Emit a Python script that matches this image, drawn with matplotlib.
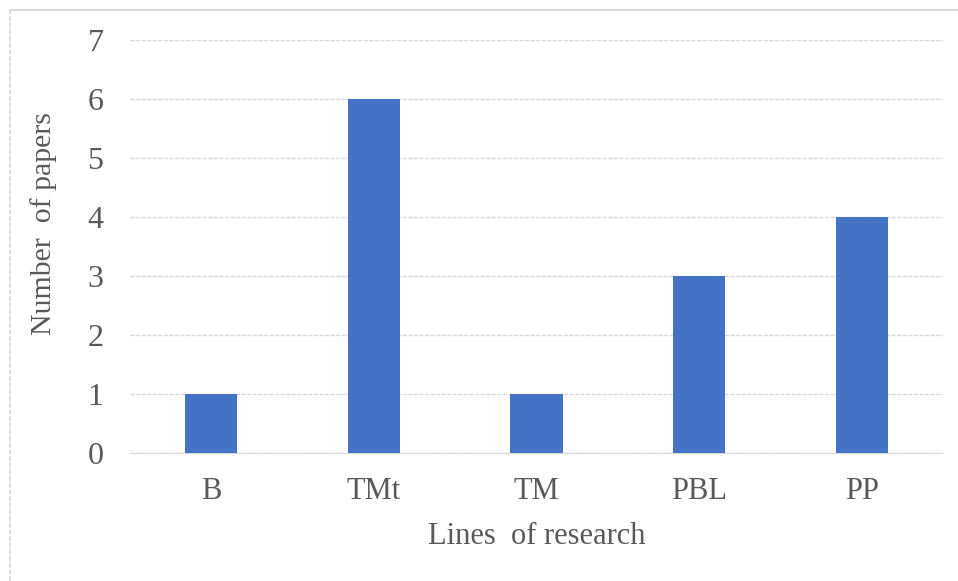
import matplotlib
matplotlib.use("Agg")
import matplotlib.pyplot as plt
from matplotlib.lines import Line2D

# papers counted per line of research
lines = ["B", "TMt", "TM", "PBL", "PP"]
papers = [1, 6, 1, 3, 4]
y_ticks = [0, 1, 2, 3, 4, 5, 6, 7]

plt.rcParams['font.family'] = ['Liberation Serif', 'DejaVu Serif']
text_col = "#595959"
grid_col = "#d9d9d9"

fig = plt.figure(figsize=(9.58, 5.81), dpi=100)
ax = fig.add_axes([130 / 958, 1 - 453 / 581, (943 - 130) / 958, (453 - 40) / 581])

x = range(len(lines))
ax.bar(x, papers, width=0.32, color="#4472C4", zorder=3)

ax.set_xlim(-0.5, len(lines) - 0.5)
ax.set_ylim(0, 7)
ax.set_yticks(y_ticks)
ax.set_xticks(list(x))
ax.set_xticklabels(lines)

ax.yaxis.grid(True, color=grid_col, linewidth=1.0, linestyle=(0, (3, 1)), zorder=0)
ax.set_axisbelow(True)
for s in ["top", "right", "left"]:
    ax.spines[s].set_visible(False)
ax.spines["bottom"].set_color(grid_col)
ax.spines["bottom"].set_linestyle((0, (3, 1)))
ax.spines["bottom"].set_zorder(1)

ax.tick_params(axis="both", length=0, labelsize=22, labelcolor=text_col)
ax.tick_params(axis="y", pad=19, labelsize=23)
ax.tick_params(axis="x", pad=17)

ax.set_xlabel("Lines  of research", fontsize=22, color=text_col, labelpad=12)
ax.set_ylabel("Number  of papers", fontsize=21.5, color=text_col)
ax.yaxis.set_label_coords(-0.09, 0.555)

# chart area frame (left and top edges only show)
fig.add_artist(Line2D([10 / 958, 10 / 958], [0, 1 - 10 / 581], transform=fig.transFigure,
                      color=grid_col, linewidth=1.2, linestyle=(0, (3, 1))))
fig.add_artist(Line2D([10 / 958, 1], [1 - 10 / 581, 1 - 10 / 581], transform=fig.transFigure,
                      color=grid_col, linewidth=1.5))

fig.savefig("out.png", dpi=100)
